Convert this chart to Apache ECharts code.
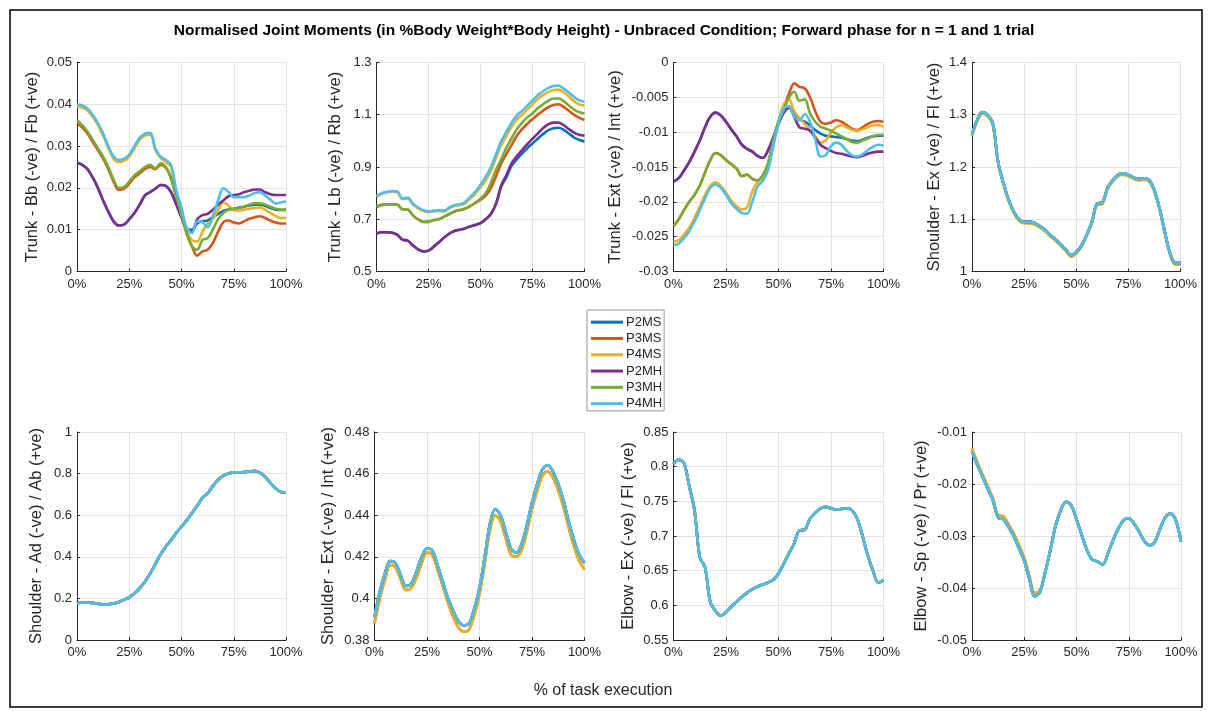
<!DOCTYPE html>
<html>
<head>
<meta charset="utf-8">
<script src="https://cdn.jsdelivr.net/npm/echarts@6/dist/echarts.min.js"></script>
<style>
  html, body { margin: 0; padding: 0; background: #fff; }
  #chart { width: 1208px; height: 711px; }
</style>
</head>
<body>
<div id="chart"></div>
<script>
// Percent of task execution (shared x values for every panel)
const pct = [0, 2.5, 5, 7.5, 10, 12.5, 15, 17.5, 20, 22.5, 25, 27.5, 30, 32.5, 35, 37.5, 40, 42.5, 45, 47.5,
  50, 52.5, 55, 57.5, 60, 62.5, 65, 67.5, 70, 72.5, 75, 77.5, 80, 82.5, 85, 87.5, 90, 92.5, 95, 97.5, 100];

const seriesNames = ['P2MS', 'P3MS', 'P4MS', 'P2MH', 'P3MH', 'P4MH'];
const xTickLabels = ['0%', '25%', '50%', '75%', '100%'];

// Trunk - Bb / Fb
const trunkFbP2MS = [0.0260,0.0255,0.0245,0.0225,0.0200,0.0170,0.0143,0.0120,0.0110,0.0112,0.0125,0.0140,0.0160,0.0182,0.0190,0.0198,0.0207,0.0205,0.0190,0.0160,0.0130,0.0102,0.0100,0.0115,0.0120,0.0122,0.0130,0.0138,0.0145,0.0148,0.0150,0.0153,0.0155,0.0158,0.0160,0.0160,0.0157,0.0152,0.0148,0.0147,0.0147];
const trunkFbP3MS = [0.0355,0.0345,0.0330,0.0310,0.0290,0.0270,0.0245,0.0215,0.0195,0.0198,0.0210,0.0225,0.0235,0.0245,0.0250,0.0245,0.0255,0.0248,0.0222,0.0178,0.0132,0.0090,0.0060,0.0038,0.0048,0.0052,0.0068,0.0095,0.0118,0.0122,0.0117,0.0115,0.0120,0.0126,0.0130,0.0132,0.0128,0.0122,0.0117,0.0115,0.0115];
const trunkFbP4MS = [0.0395,0.0392,0.0385,0.0370,0.0350,0.0325,0.0295,0.0270,0.0262,0.0265,0.0275,0.0295,0.0315,0.0325,0.0327,0.0290,0.0272,0.0262,0.0250,0.0185,0.0140,0.0095,0.0075,0.0072,0.0095,0.0115,0.0125,0.0148,0.0165,0.0158,0.0146,0.0146,0.0148,0.0150,0.0152,0.0153,0.0148,0.0140,0.0133,0.0128,0.0128];
const trunkFbP2MH = [0.0260,0.0255,0.0245,0.0225,0.0200,0.0170,0.0143,0.0120,0.0110,0.0112,0.0125,0.0140,0.0160,0.0182,0.0190,0.0198,0.0207,0.0205,0.0190,0.0160,0.0130,0.0102,0.0095,0.0125,0.0135,0.0138,0.0148,0.0160,0.0170,0.0180,0.0183,0.0185,0.0190,0.0193,0.0196,0.0196,0.0190,0.0185,0.0183,0.0183,0.0183];
const trunkFbP3MH = [0.0362,0.0350,0.0335,0.0315,0.0295,0.0275,0.0250,0.0220,0.0200,0.0202,0.0215,0.0230,0.0240,0.0250,0.0255,0.0247,0.0259,0.0250,0.0225,0.0180,0.0135,0.0095,0.0060,0.0052,0.0075,0.0080,0.0100,0.0125,0.0140,0.0148,0.0150,0.0152,0.0155,0.0160,0.0163,0.0163,0.0160,0.0155,0.0150,0.0148,0.0148];
const trunkFbP4MH = [0.0400,0.0397,0.0390,0.0375,0.0355,0.0330,0.0300,0.0275,0.0267,0.0270,0.0280,0.0300,0.0320,0.0330,0.0332,0.0295,0.0275,0.0267,0.0255,0.0195,0.0152,0.0105,0.0092,0.0120,0.0118,0.0106,0.0133,0.0170,0.0199,0.0190,0.0178,0.0178,0.0178,0.0182,0.0188,0.0190,0.0182,0.0172,0.0163,0.0165,0.0168];

// Trunk - Lb / Rb
const trunkRbP2MS = [0.645,0.650,0.650,0.648,0.640,0.622,0.618,0.600,0.585,0.577,0.580,0.595,0.612,0.630,0.645,0.655,0.660,0.665,0.672,0.678,0.685,0.700,0.720,0.760,0.825,0.862,0.905,0.930,0.952,0.972,0.990,1.008,1.025,1.040,1.048,1.050,1.042,1.028,1.013,1.003,0.998];
const trunkRbP3MS = [0.748,0.755,0.757,0.757,0.756,0.738,0.737,0.715,0.700,0.690,0.690,0.697,0.700,0.710,0.720,0.730,0.735,0.740,0.750,0.762,0.775,0.790,0.820,0.865,0.915,0.950,0.985,1.020,1.045,1.065,1.083,1.100,1.115,1.128,1.137,1.140,1.130,1.115,1.100,1.088,1.080];
const trunkRbP4MS = [0.786,0.797,0.802,0.805,0.803,0.777,0.780,0.757,0.742,0.732,0.727,0.730,0.732,0.730,0.742,0.752,0.754,0.760,0.778,0.797,0.822,0.850,0.885,0.935,0.985,1.020,1.055,1.082,1.100,1.120,1.140,1.160,1.175,1.187,1.195,1.196,1.186,1.170,1.152,1.140,1.135];
const trunkRbP2MH = [0.645,0.650,0.650,0.648,0.640,0.622,0.618,0.600,0.585,0.577,0.580,0.595,0.612,0.630,0.645,0.655,0.660,0.665,0.672,0.678,0.685,0.700,0.720,0.760,0.830,0.870,0.915,0.942,0.965,0.988,1.008,1.028,1.048,1.063,1.070,1.070,1.060,1.045,1.032,1.023,1.020];
const trunkRbP3MH = [0.748,0.755,0.757,0.757,0.756,0.738,0.737,0.715,0.700,0.690,0.690,0.697,0.700,0.710,0.720,0.730,0.735,0.740,0.750,0.763,0.779,0.800,0.840,0.890,0.930,0.975,1.010,1.045,1.070,1.090,1.105,1.125,1.140,1.153,1.162,1.162,1.152,1.135,1.120,1.110,1.105];
const trunkRbP4MH = [0.789,0.800,0.805,0.808,0.806,0.780,0.783,0.760,0.745,0.735,0.730,0.733,0.735,0.733,0.745,0.755,0.757,0.765,0.785,0.805,0.832,0.862,0.900,0.950,1.000,1.035,1.070,1.098,1.115,1.135,1.155,1.175,1.190,1.202,1.210,1.212,1.200,1.185,1.168,1.155,1.150];

// Trunk - Ext / Int
const trunkIntP2MS = [-0.0171,-0.0166,-0.0155,-0.0143,-0.0128,-0.0112,-0.0093,-0.0078,-0.0072,-0.0076,-0.0085,-0.0096,-0.0106,-0.0118,-0.0124,-0.0128,-0.0134,-0.0137,-0.0126,-0.0108,-0.0088,-0.0072,-0.0065,-0.0072,-0.0082,-0.0085,-0.0090,-0.0097,-0.0102,-0.0105,-0.0106,-0.0107,-0.0108,-0.0110,-0.0112,-0.0113,-0.0111,-0.0108,-0.0106,-0.0105,-0.0105];
const trunkIntP3MS = [-0.0235,-0.0225,-0.0212,-0.0200,-0.0190,-0.0177,-0.0158,-0.0140,-0.0130,-0.0133,-0.0140,-0.0146,-0.0152,-0.0163,-0.0161,-0.0167,-0.0169,-0.0162,-0.0145,-0.0112,-0.0085,-0.0065,-0.0045,-0.0030,-0.0035,-0.0037,-0.0050,-0.0070,-0.0085,-0.0088,-0.0086,-0.0083,-0.0085,-0.0090,-0.0095,-0.0097,-0.0093,-0.0088,-0.0085,-0.0084,-0.0085];
const trunkIntP4MS = [-0.0257,-0.0255,-0.0247,-0.0237,-0.0223,-0.0207,-0.0190,-0.0177,-0.0172,-0.0177,-0.0187,-0.0198,-0.0206,-0.0211,-0.0208,-0.0185,-0.0172,-0.0165,-0.0150,-0.0118,-0.0085,-0.0060,-0.0053,-0.0070,-0.0080,-0.0088,-0.0097,-0.0106,-0.0115,-0.0112,-0.0100,-0.0093,-0.0090,-0.0093,-0.0097,-0.0098,-0.0096,-0.0093,-0.0090,-0.0090,-0.0092];
const trunkIntP2MH = [-0.0171,-0.0166,-0.0155,-0.0143,-0.0128,-0.0112,-0.0093,-0.0078,-0.0072,-0.0076,-0.0085,-0.0096,-0.0106,-0.0118,-0.0124,-0.0128,-0.0134,-0.0137,-0.0126,-0.0108,-0.0088,-0.0072,-0.0065,-0.0078,-0.0093,-0.0095,-0.0098,-0.0108,-0.0118,-0.0123,-0.0127,-0.0130,-0.0131,-0.0133,-0.0135,-0.0136,-0.0134,-0.0131,-0.0129,-0.0128,-0.0128];
const trunkIntP3MH = [-0.0235,-0.0225,-0.0212,-0.0200,-0.0190,-0.0177,-0.0158,-0.0140,-0.0130,-0.0133,-0.0140,-0.0146,-0.0152,-0.0163,-0.0161,-0.0167,-0.0169,-0.0162,-0.0145,-0.0112,-0.0085,-0.0068,-0.0050,-0.0042,-0.0055,-0.0053,-0.0073,-0.0085,-0.0092,-0.0095,-0.0098,-0.0102,-0.0106,-0.0110,-0.0114,-0.0115,-0.0112,-0.0109,-0.0106,-0.0104,-0.0104];
const trunkIntP4MH = [-0.0262,-0.0260,-0.0252,-0.0242,-0.0228,-0.0212,-0.0195,-0.0180,-0.0175,-0.0180,-0.0190,-0.0202,-0.0210,-0.0216,-0.0217,-0.0200,-0.0178,-0.0170,-0.0155,-0.0120,-0.0088,-0.0066,-0.0063,-0.0078,-0.0083,-0.0074,-0.0085,-0.0110,-0.0135,-0.0133,-0.0120,-0.0115,-0.0118,-0.0127,-0.0133,-0.0135,-0.0132,-0.0126,-0.0121,-0.0118,-0.0119];

// Shoulder - Ex / Fl
const shFlP4MS = [1.259,1.287,1.302,1.297,1.280,1.207,1.167,1.135,1.112,1.097,1.092,1.092,1.090,1.084,1.077,1.067,1.059,1.049,1.039,1.028,1.034,1.047,1.067,1.092,1.127,1.129,1.157,1.172,1.182,1.185,1.182,1.177,1.174,1.175,1.172,1.152,1.117,1.072,1.032,1.013,1.013];
const shFlP4MH = [1.262,1.290,1.305,1.300,1.283,1.210,1.170,1.138,1.115,1.100,1.095,1.095,1.093,1.087,1.080,1.070,1.062,1.052,1.042,1.031,1.037,1.050,1.070,1.095,1.130,1.132,1.160,1.175,1.185,1.188,1.185,1.180,1.177,1.178,1.175,1.155,1.120,1.075,1.035,1.016,1.016];
const shFlP2MS = shFlP4MH, shFlP3MS = shFlP4MH, shFlP2MH = shFlP4MH, shFlP3MH = shFlP4MH;

// Shoulder - Ad / Ab
const shAbP4MH = [0.176,0.180,0.180,0.178,0.175,0.170,0.172,0.175,0.183,0.193,0.205,0.225,0.250,0.280,0.320,0.365,0.412,0.450,0.480,0.515,0.545,0.575,0.610,0.645,0.683,0.705,0.740,0.770,0.790,0.800,0.806,0.806,0.807,0.810,0.812,0.805,0.785,0.755,0.730,0.712,0.710];
const shAbP2MS = shAbP4MH, shAbP3MS = shAbP4MH, shAbP4MS = shAbP4MH, shAbP2MH = shAbP4MH, shAbP3MH = shAbP4MH;

// Shoulder - Ext / Int
const shIntP4MS = [0.388,0.400,0.409,0.416,0.415,0.409,0.404,0.405,0.410,0.417,0.422,0.421,0.414,0.406,0.398,0.391,0.386,0.384,0.385,0.392,0.402,0.417,0.433,0.440,0.437,0.429,0.421,0.420,0.423,0.432,0.443,0.452,0.459,0.461,0.458,0.452,0.444,0.434,0.425,0.418,0.414];
const shIntP4MH = [0.391,0.403,0.412,0.418,0.417,0.411,0.406,0.407,0.413,0.420,0.424,0.423,0.416,0.408,0.400,0.394,0.389,0.387,0.388,0.395,0.405,0.420,0.436,0.443,0.440,0.432,0.424,0.422,0.426,0.435,0.446,0.455,0.462,0.464,0.461,0.455,0.447,0.437,0.428,0.421,0.417];
const shIntP2MS = shIntP4MH, shIntP3MS = shIntP4MS, shIntP2MH = shIntP4MH, shIntP3MH = shIntP4MH;

// Elbow - Ex / Fl
const elFlP4MH = [0.804,0.810,0.805,0.772,0.737,0.670,0.655,0.605,0.592,0.585,0.590,0.598,0.605,0.612,0.618,0.623,0.627,0.630,0.633,0.637,0.646,0.660,0.675,0.690,0.708,0.709,0.725,0.733,0.740,0.742,0.740,0.738,0.739,0.740,0.737,0.725,0.700,0.672,0.650,0.633,0.636];
const elFlP2MS = elFlP4MH, elFlP3MS = elFlP4MH, elFlP4MS = elFlP4MH, elFlP2MH = elFlP4MH, elFlP3MH = elFlP4MH;

// Elbow - Sp / Pr
const elPrP4MS = [-0.0132,-0.0158,-0.0182,-0.0205,-0.0228,-0.0260,-0.0262,-0.0278,-0.0296,-0.0318,-0.0342,-0.0378,-0.0410,-0.0405,-0.0370,-0.0327,-0.0280,-0.0250,-0.0234,-0.0241,-0.0268,-0.0298,-0.0327,-0.0345,-0.0349,-0.0355,-0.0334,-0.0308,-0.0286,-0.0270,-0.0266,-0.0276,-0.0292,-0.0310,-0.0318,-0.0311,-0.0286,-0.0264,-0.0257,-0.0270,-0.0311];
const elPrP4MH = [-0.0138,-0.0163,-0.0186,-0.0209,-0.0232,-0.0264,-0.0268,-0.0283,-0.0301,-0.0324,-0.0348,-0.0384,-0.0416,-0.0408,-0.0370,-0.0327,-0.0280,-0.0250,-0.0234,-0.0241,-0.0268,-0.0298,-0.0327,-0.0345,-0.0349,-0.0355,-0.0334,-0.0308,-0.0286,-0.0270,-0.0266,-0.0276,-0.0292,-0.0310,-0.0318,-0.0311,-0.0286,-0.0264,-0.0257,-0.0270,-0.0311];
const elPrP2MS = elPrP4MH, elPrP3MS = elPrP4MS, elPrP2MH = elPrP4MH, elPrP3MH = elPrP4MH;

const lineColors = ['#0072BD', '#D95319', '#EDB120', '#7E2F8E', '#77AC30', '#4DBEEE'];
const FONT = 'Liberation Sans, Arial, sans-serif';
const INK = '#262626';

const panels = [
  { label: 'Trunk - Bb (-ve) / Fb (+ve)', min: 0, max: 0.05, step: 0.01,
    sets: [trunkFbP2MS, trunkFbP3MS, trunkFbP4MS, trunkFbP2MH, trunkFbP3MH, trunkFbP4MH],
    box: [77, 62.5, 209, 209], gap: 36 },
  { label: 'Trunk - Lb (-ve) / Rb (+ve)', min: 0.5, max: 1.3, step: 0.2,
    sets: [trunkRbP2MS, trunkRbP3MS, trunkRbP4MS, trunkRbP2MH, trunkRbP3MH, trunkRbP4MH],
    box: [376.5, 62.5, 208, 209], gap: 33 },
  { label: 'Trunk - Ext (-ve) / Int (+ve)', min: -0.03, max: 0, step: 0.005,
    sets: [trunkIntP2MS, trunkIntP3MS, trunkIntP4MS, trunkIntP2MH, trunkIntP3MH, trunkIntP4MH],
    box: [673.5, 62.5, 210, 209], gap: 50 },
  { label: 'Shoulder - Ex (-ve) / Fl (+ve)', min: 1, max: 1.4, step: 0.1,
    sets: [shFlP2MS, shFlP3MS, shFlP4MS, shFlP2MH, shFlP3MH, shFlP4MH],
    box: [972, 62.5, 208.5, 209], gap: 29 },
  { label: 'Shoulder - Ad (-ve) / Ab (+ve)', min: 0, max: 1, step: 0.2,
    sets: [shAbP2MS, shAbP3MS, shAbP4MS, shAbP2MH, shAbP3MH, shAbP4MH],
    box: [77, 432, 209, 208], gap: 32 },
  { label: 'Shoulder - Ext (-ve) / Int (+ve)', min: 0.38, max: 0.48, step: 0.02,
    sets: [shIntP2MS, shIntP3MS, shIntP4MS, shIntP2MH, shIntP3MH, shIntP4MH],
    box: [374.5, 432, 210, 208], gap: 38 },
  { label: 'Elbow - Ex (-ve) / Fl (+ve)', min: 0.55, max: 0.85, step: 0.05,
    sets: [elFlP2MS, elFlP3MS, elFlP4MS, elFlP2MH, elFlP3MH, elFlP4MH],
    box: [673.5, 432, 210, 208], gap: 37 },
  { label: 'Elbow - Sp (-ve) / Pr (+ve)', min: -0.05, max: -0.01, step: 0.01,
    sets: [elPrP2MS, elPrP3MS, elPrP4MS, elPrP2MH, elPrP3MH, elPrP4MH],
    box: [972, 432, 209, 208], gap: 42 }
];

const grids = [], xAxes = [], yAxes = [], series = [];
panels.forEach((p, k) => {
  grids.push({ left: p.box[0], top: p.box[1], width: p.box[2], height: p.box[3], containLabel: false });
  xAxes.push({
    gridIndex: k, type: 'value', min: 0, max: 100, interval: 25,
    axisLine: { show: true, onZero: false, lineStyle: { color: INK, width: 1 } },
    axisTick: { show: true, inside: true, length: 3, lineStyle: { color: INK } },
    axisLabel: { color: INK, fontSize: 13, fontFamily: FONT, margin: 6,
      formatter: v => xTickLabels[Math.round(v / 25)] },
    splitLine: { show: true, lineStyle: { color: '#e3e3e3', width: 1 } }
  });
  yAxes.push({
    gridIndex: k, type: 'value', min: p.min, max: p.max, interval: p.step,
    name: p.label, nameLocation: 'middle', nameGap: p.gap, nameRotate: 90,
    nameTextStyle: { color: INK, fontSize: 16.5, fontFamily: FONT },
    axisLine: { show: true, onZero: false, lineStyle: { color: INK, width: 1 } },
    axisTick: { show: true, inside: true, length: 3, lineStyle: { color: INK } },
    axisLabel: { color: INK, fontSize: 13, fontFamily: FONT, margin: 5,
      formatter: v => String(parseFloat(v.toFixed(4))) },
    splitLine: { show: true, lineStyle: { color: '#e3e3e3', width: 1 } }
  });
  p.sets.forEach((vals, s) => {
    series.push({
      name: seriesNames[s], type: 'line', xAxisIndex: k, yAxisIndex: k,
      data: pct.map((x, i) => [x, vals[i]]),
      showSymbol: false, smooth: 0.35, animation: false,
      lineStyle: { color: lineColors[s], width: 2.6 },
      itemStyle: { color: lineColors[s] }
    });
  });
});

const chart = echarts.init(document.getElementById('chart'), null, { renderer: 'canvas' });
chart.setOption({
  backgroundColor: '#fff',
  animation: false,
  title: {
    text: 'Normalised Joint Moments (in %Body Weight*Body Height) - Unbraced Condition; Forward phase for n = 1 and 1 trial',
    left: 'center', top: 18,
    textStyle: { color: '#000', fontSize: 15.5, fontWeight: 'bold', fontFamily: FONT }
  },
  legend: {
    data: seriesNames, orient: 'vertical', left: 587, top: 310,
    icon: 'rect', itemWidth: 32, itemHeight: 3, itemGap: 2,
    padding: [5, 2, 0, 4],
    borderColor: '#9a9a9a', borderWidth: 1, backgroundColor: '#fff',
    textStyle: { color: INK, fontSize: 13, fontFamily: FONT, lineHeight: 14.3, padding: [0, 0, 0, -2] },
    selectedMode: false
  },
  grid: grids, xAxis: xAxes, yAxis: yAxes, series: series,
  graphic: [
    { type: 'rect', shape: { x: 10, y: 10, width: 1192, height: 697 },
      style: { fill: 'none', stroke: '#000', lineWidth: 1.5 }, silent: true },
    { type: 'text', x: 603, y: 691,
      style: { text: '% of task execution', fill: INK, font: '16px ' + FONT, textAlign: 'center', textVerticalAlign: 'middle' } }
  ]
});
</script>
</body>
</html>
